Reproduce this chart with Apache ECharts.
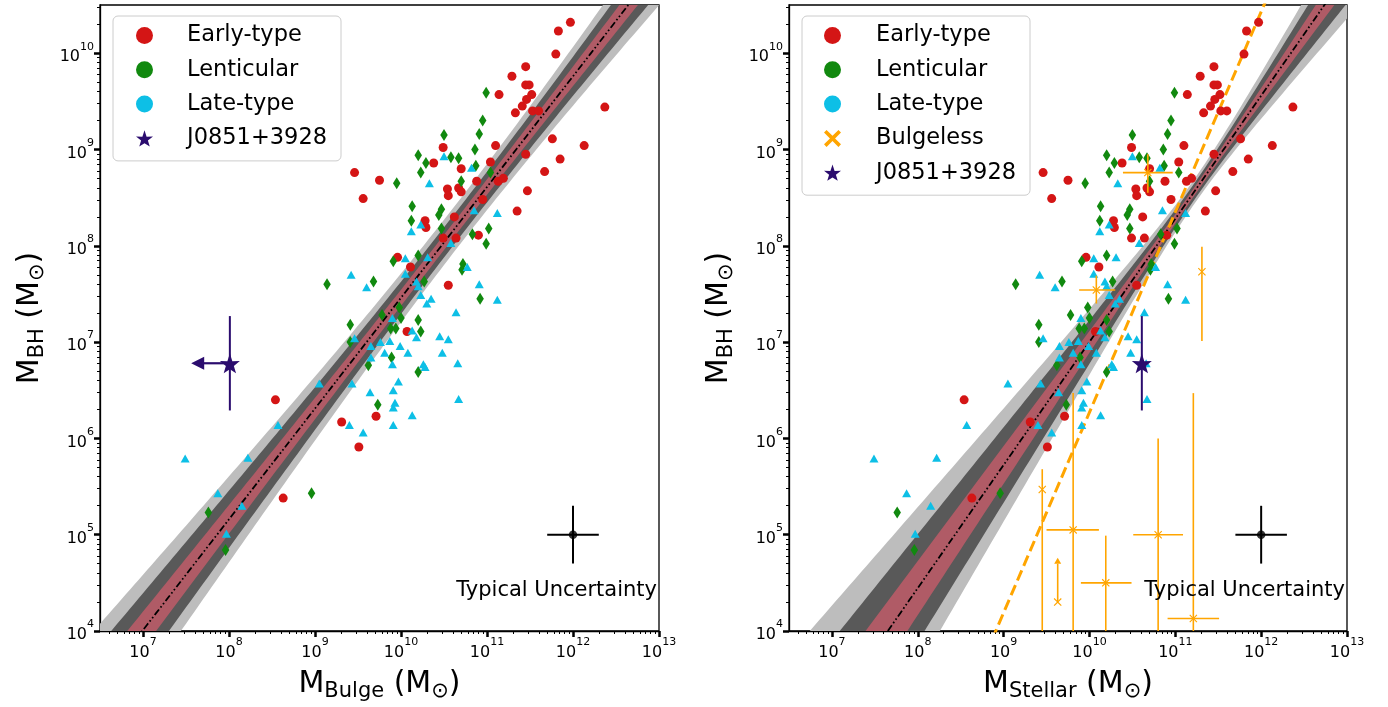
<!DOCTYPE html>
<html>
<head>
<meta charset="utf-8">
<script src="https://cdn.jsdelivr.net/npm/echarts@6/dist/echarts.min.js"></script>
<style>
  html, body { margin: 0; padding: 0; background: #fff; }
  #chart { width: 1388px; height: 707px; }
</style>
</head>
<body>
<div id="chart"></div>
<script>
// All masses are log10(M / M_sun).

// Early-type galaxies (bulge mass equals stellar mass)
const earlyLogM = [11.97,11.83,11.80,11.45,11.29,11.45,11.49,11.14,11.52,11.46,
  11.41,11.33,11.53,11.60,12.37,11.76,12.13,10.49,11.10,11.45,
  11.85,10.38,11.04,10.70,9.46,11.67,9.75,10.88,11.13,11.19,
  10.54,10.67,10.55,10.70,11.47,9.56,10.95,11.35,10.28,10.29,
  10.62,10.49,10.64,10.90,9.96,10.11,10.55,10.07,8.54,9.31,
  9.71,9.51,8.63];
const earlyLogBH = [10.32,10.23,9.99,9.86,9.76,9.67,9.67,9.57,9.57,9.52,
  9.45,9.38,9.40,9.40,9.44,9.11,9.04,9.02,9.04,8.95,
  8.90,8.86,8.87,8.80,8.76,8.77,8.68,8.67,8.67,8.70,
  8.59,8.60,8.52,8.56,8.57,8.49,8.48,8.36,8.26,8.19,
  8.30,8.08,8.08,8.11,7.88,7.78,7.59,7.11,6.40,6.17,
  6.23,5.91,5.38];

// Lenticular galaxies
const lentLogM = [10.99,10.95,10.91,10.50,10.86,10.20,10.58,10.67,10.29,10.87,
  10.23,11.04,10.70,9.95,10.13,10.47,10.44,10.12,10.47,11.02,
  10.83,10.99,10.20,9.91,10.72,10.71,9.68,9.14,10.27,10.92,
  9.98,9.78,9.41,9.88,9.94,10.00,10.20,10.23,9.41,9.89,
  9.62,10.20,9.73,8.96,7.76,7.96];
const lentLogBH = [9.59,9.30,9.16,9.15,9.00,8.94,8.92,8.91,8.86,8.83,
  8.76,8.76,8.67,8.65,8.41,8.38,8.32,8.26,8.18,8.18,
  8.12,8.02,7.90,7.84,7.81,7.75,7.63,7.60,7.63,7.45,
  7.36,7.28,7.18,7.14,7.14,7.25,7.23,7.11,7.00,6.84,
  6.76,6.69,6.35,5.43,5.23,4.84];

// Late-type galaxies
const lateLogM = [10.50,10.82,10.33,10.85,11.12,10.23,10.12,10.58,10.05,10.31,
  9.42,9.60,10.05,10.18,10.20,10.77,10.91,10.23,10.35,10.30,
  11.12,10.64,9.90,9.46,9.65,9.76,9.87,9.99,10.13,10.18,
  10.08,9.81,9.65,10.45,10.55,10.48,9.90,10.26,10.28,10.66,
  9.05,9.43,9.97,9.64,9.91,9.93,9.91,10.67,10.13,8.57,
  9.40,9.91,9.56,7.49,8.22,7.87,8.15,7.97];
const lateLogBH = [8.93,8.81,8.65,8.37,8.34,8.22,8.15,8.03,7.87,7.88,
  7.70,7.57,7.71,7.63,7.58,7.78,7.60,7.49,7.45,7.40,
  7.44,7.31,7.25,7.04,6.96,7.00,7.01,6.96,7.12,7.05,
  6.89,6.89,6.84,7.06,7.03,6.89,6.77,6.77,6.74,6.78,
  6.57,6.57,6.59,6.48,6.50,6.37,6.32,6.41,6.24,6.14,
  6.14,6.14,6.06,5.79,5.80,5.43,5.30,5.01];

// Bulgeless galaxies (stellar-mass panel only); null = no bar on that side,
// lower bounds below 10^4 run off the bottom of the axes
const bgLogM  = [10.68, 10.08, 11.31, 9.45, 9.81, 10.19, 10.80, 11.21];
const bgLogBH = [8.76, 7.54, 7.73, 5.47, 5.05, 4.50, 5.00, 4.13];
const bgXLo   = [10.39, 9.88, null, null, 9.50, 9.90, 10.51, 10.91];
const bgXHi   = [10.97, 10.30, null, null, 10.11, 10.49, 11.09, 11.51];
const bgYLo   = [8.55, 7.40, 7.01, 3.0, 3.0, 3.0, 3.0, 3.0];
const bgYHi   = [8.95, 7.69, 7.99, 5.68, 6.47, 4.99, 6.00, 6.47];
// bulgeless lower limit: [logM, logBH, arrow tip]
const bgLimit = [9.63, 4.30, 4.76];

// J0851+3928
const jLogMbulgeLimit = 8.01;   // upper limit on bulge mass
const jLimitArrowTip = 7.56;
const jLogMstar = 10.61;
const jLogBH = 6.78;
const jLogBHLo = 6.29, jLogBHHi = 7.27;

// Typical uncertainty marker: [logM, logBH, +/- dex]
const typical = [12.0, 5.0, 0.3];

// Scaling relations: logBH = norm + slope*(logM - pivot);
// confidence width sigma(x) = sqrt(sa^2 + (sb*(x - x0))^2), shaded at 1, 2, 3 sigma
const bulgeFit   = { norm: 8.61, slope: 1.15, pivot: 11, sa: 0.078, sb: 0.048, x0: 10.64 };
const stellarFit = { norm: 8.28, slope: 1.278, pivot: 11, sa: 0.043, sb: 0.086, x0: 11.22 };
const bulgelessFit = { norm: 8.35, slope: 2.08, pivot: 11 };

// Axis tick labels (exponents)
const xMajor = [7, 8, 9, 10, 11, 12, 13];
const yMajor = [4, 5, 6, 7, 8, 9, 10];

const FONT = 'DejaVu Sans';
const C_EARLY = '#d41515', C_LENT = '#11890f', C_LATE = '#0dbfe6';
const C_STAR = '#2b0c6e', C_ORANGE = '#ffa500';
const BAND_COLORS = ['#bdbdbd', '#595959', '#b05b66'];

const X_RANGE = [6.5, 13], Y_RANGE = [4, 10.5];

function minorTicks(lo, hi) {
  const out = [];
  for (let n = Math.floor(lo); n <= Math.ceil(hi); n++) {
    for (let k = 2; k <= 9; k++) {
      const v = n + Math.log10(k);
      if (v > lo && v < hi) out.push(v);
    }
  }
  return out;
}

const STAR_PATH = 'path://M10,0L12.35,7.19L19.51,6.91L13.8,11.45L15.88,18.09L10,14.55L4.12,18.09L6.2,11.45L0.49,6.91L7.65,7.19Z';
const X_BOLD = 'path://M0,3L3,0L10,7L17,0L20,3L13,10L20,17L17,20L10,13L3,20L0,17L7,10Z';
const X_THIN = 'path://M0,1L1,0L5,4L9,0L10,1L6,5L10,9L9,10L5,6L1,10L0,9L4,5Z';

const supRich = {
  b: { fontFamily: FONT, fontSize: 16, color: '#000', lineHeight: 24, verticalAlign: 'bottom' },
  s: { fontFamily: FONT, fontSize: 11, color: '#000', lineHeight: 24, verticalAlign: 'top' }
};
const powLabel = v => '{b|10}{s|' + Math.round(v) + '}';

const titleStyle = {
  fontFamily: FONT, fontSize: 30, color: '#000',
  rich: { s: { fontFamily: FONT, fontSize: 21, color: '#000', padding: [15, 0, 0, 0] } }
};

function majorX(gridIndex, title) {
  return {
    type: 'value', gridIndex, min: X_RANGE[0], max: X_RANGE[1], position: 'bottom',
    name: title, nameLocation: 'middle', nameGap: 35, nameTextStyle: titleStyle,
    axisLine: { show: true, lineStyle: { color: '#000', width: 1.3 } },
    axisTick: { show: true, customValues: xMajor, length: 6, lineStyle: { color: '#000', width: 2.5 } },
    axisLabel: { show: true, customValues: xMajor, formatter: powLabel, rich: supRich, margin: 6 },
    splitLine: { show: false }
  };
}
function minorX(gridIndex) {
  return {
    type: 'value', gridIndex, min: X_RANGE[0], max: X_RANGE[1], position: 'bottom',
    axisLine: { show: false },
    axisTick: { show: true, customValues: minorTicks(X_RANGE[0], X_RANGE[1]), length: 3, lineStyle: { color: '#000', width: 1 } },
    axisLabel: { show: false }, splitLine: { show: false }
  };
}
function majorY(gridIndex) {
  return {
    type: 'value', gridIndex, min: Y_RANGE[0], max: Y_RANGE[1], position: 'left',
    name: 'M{s|BH} (M{s|⊙})', nameLocation: 'middle', nameGap: 52, nameTextStyle: titleStyle,
    axisLine: { show: true, lineStyle: { color: '#000', width: 1.3 } },
    axisTick: { show: true, customValues: yMajor, length: 6, lineStyle: { color: '#000', width: 2.5 } },
    axisLabel: { show: true, customValues: yMajor, formatter: powLabel, rich: supRich, margin: 6 },
    splitLine: { show: false }
  };
}
function minorY(gridIndex) {
  return {
    type: 'value', gridIndex, min: Y_RANGE[0], max: Y_RANGE[1], position: 'left',
    axisLine: { show: false },
    axisTick: { show: true, customValues: minorTicks(Y_RANGE[0], Y_RANGE[1]), length: 3, lineStyle: { color: '#000', width: 1 } },
    axisLabel: { show: false }, splitLine: { show: false }
  };
}

// Sample positions for drawing the fitted relations and their bands
const fitXs = [];
for (let i = 0; i <= 150; i++) fitXs.push(6.0 + i * 0.05);

const fitY = (f, x) => f.norm + f.slope * (x - f.pivot);
const fitSig = (f, x) => Math.sqrt(f.sa * f.sa + Math.pow(f.sb * (x - f.x0), 2));

// One filled polygon per confidence band, clipped to the plot box
function bandSeries(fit, axis, k, color, z) {
  const rows = fitXs.map(x => [x, fitY(fit, x) - k * fitSig(fit, x), fitY(fit, x) + k * fitSig(fit, x)]);
  return {
    type: 'custom', name: 'band' + k, xAxisIndex: axis, yAxisIndex: axis, z, silent: true,
    data: rows,
    renderItem: function (params, api) {
      if (params.dataIndex !== 0) return null;
      const cs = params.coordSys;
      const upper = rows.map(r => api.coord([r[0], r[2]]));
      const lower = rows.map(r => api.coord([r[0], r[1]])).reverse();
      return {
        type: 'polygon', shape: { points: upper.concat(lower) }, style: { fill: color },
        clipPath: { type: 'rect', shape: { x: cs.x, y: cs.y, width: cs.width, height: cs.height } }
      };
    }
  };
}

function fitSeries(fit, axis, tag) {
  const out = [
    bandSeries(fit, axis, 3, BAND_COLORS[0], 1),
    bandSeries(fit, axis, 2, BAND_COLORS[1], 1.1),
    bandSeries(fit, axis, 1, BAND_COLORS[2], 1.2)
  ];
  out.push({
    type: 'line', name: tag + '-fit', xAxisIndex: axis, yAxisIndex: axis,
    data: fitXs.map(x => [x, fitY(fit, x)]), symbol: 'none', silent: true, z: 2, clip: true,
    lineStyle: { color: '#000', width: 1.8, type: [7, 2.5, 1.6, 2.5, 1.6, 2.5] }
  });
  return out;
}

function scatterSeries(axis) {
  return [
    { type: 'scatter', name: 'Early-type', xAxisIndex: axis, yAxisIndex: axis, z: 4,
      symbol: 'circle', symbolSize: 9, itemStyle: { color: C_EARLY, opacity: 1 },
      data: earlyLogM.map((x, i) => [x, earlyLogBH[i]]) },
    { type: 'scatter', name: 'Lenticular', xAxisIndex: axis, yAxisIndex: axis, z: 4,
      symbol: 'diamond', symbolSize: [7.5, 12], itemStyle: { color: C_LENT, opacity: 1 },
      data: lentLogM.map((x, i) => [x, lentLogBH[i]]) },
    { type: 'scatter', name: 'Late-type', xAxisIndex: axis, yAxisIndex: axis, z: 4,
      symbol: 'triangle', symbolSize: [9, 8], itemStyle: { color: C_LATE, opacity: 1 },
      data: lateLogM.map((x, i) => [x, lateLogBH[i]]) }
  ];
}

// Error bars: [x, y, xlo, xhi, ylo, yhi] drawn through the axes, clamped to the plot box
function errorBarRender(color, width) {
  return function (params, api) {
    const cs = params.coordSys;
    const clampY = p => Math.min(Math.max(p, cs.y), cs.y + cs.height);
    const c = api.coord([api.value(0), api.value(1)]);
    const kids = [];
    const xl = api.value(2), xh = api.value(3), yl = api.value(4), yh = api.value(5);
    const st = { stroke: color, lineWidth: width };
    if (!isNaN(xl) && !isNaN(xh)) {
      const a = api.coord([xl, api.value(1)]), b = api.coord([xh, api.value(1)]);
      kids.push({ type: 'line', shape: { x1: a[0], y1: c[1], x2: b[0], y2: c[1] }, style: st });
    }
    if (!isNaN(yl) && !isNaN(yh)) {
      const a = api.coord([api.value(0), yl]), b = api.coord([api.value(0), yh]);
      kids.push({ type: 'line', shape: { x1: c[0], y1: clampY(a[1]), x2: c[0], y2: clampY(b[1]) }, style: st });
    }
    return { type: 'group', children: kids };
  };
}

function typicalSeries(axis) {
  const [x, y, e] = typical;
  return [
    { type: 'custom', name: 'typical-err', xAxisIndex: axis, yAxisIndex: axis, z: 5, silent: true,
      renderItem: errorBarRender('#000', 2), data: [[x, y, x - e, x + e, y - e, y + e]] },
    { type: 'scatter', name: 'typical', xAxisIndex: axis, yAxisIndex: axis, z: 6, silent: true,
      symbol: 'circle', symbolSize: 8.5, itemStyle: { color: '#000' }, data: [[x, y]] }
  ];
}

function starSeries(axis, xVal) {
  return [
    { type: 'custom', name: 'J0851-err', xAxisIndex: axis, yAxisIndex: axis, z: 6, silent: true,
      renderItem: errorBarRender(C_STAR, 2), data: [[xVal, jLogBH, NaN, NaN, jLogBHLo, jLogBHHi]] },
    { type: 'scatter', name: 'J0851+3928', xAxisIndex: axis, yAxisIndex: axis, z: 7,
      symbol: STAR_PATH, symbolSize: 20, itemStyle: { color: C_STAR, opacity: 1 }, data: [[xVal, jLogBH]] }
  ];
}

// Upper-limit arrow on the bulge mass of J0851+3928
const jArrowSeries = {
  type: 'custom', name: 'J0851-limit', xAxisIndex: 0, yAxisIndex: 0, z: 6, silent: true,
  data: [[jLogMbulgeLimit, jLogBH, jLimitArrowTip]],
  renderItem: function (params, api) {
    const s = api.coord([api.value(0), api.value(1)]);
    const t = api.coord([api.value(2), api.value(1)]);
    const head = 13;
    return { type: 'group', children: [
      { type: 'line', shape: { x1: s[0], y1: s[1], x2: t[0] + head * 0.8, y2: t[1] }, style: { stroke: C_STAR, lineWidth: 2.2 } },
      { type: 'polygon', shape: { points: [[t[0], t[1]], [t[0] + head, t[1] - head / 2], [t[0] + head, t[1] + head / 2]] }, style: { fill: C_STAR } }
    ] };
  }
};

// Bulgeless points, their error bars and the lower-limit arrow
const bulgelessSeries = [
  { type: 'custom', name: 'bulgeless-err', xAxisIndex: 2, yAxisIndex: 2, z: 5, silent: true,
    renderItem: errorBarRender(C_ORANGE, 1.6),
    data: bgLogM.map((x, i) => [x, bgLogBH[i],
      bgXLo[i] == null ? NaN : bgXLo[i], bgXHi[i] == null ? NaN : bgXHi[i],
      bgYLo[i] == null ? NaN : bgYLo[i], bgYHi[i] == null ? NaN : bgYHi[i]]) },
  { type: 'custom', name: 'bulgeless-limit', xAxisIndex: 2, yAxisIndex: 2, z: 5, silent: true,
    data: [bgLimit],
    renderItem: function (params, api) {
      const s = api.coord([api.value(0), api.value(1)]);
      const t = api.coord([api.value(0), api.value(2)]);
      const h = 6;
      return { type: 'group', children: [
        { type: 'line', shape: { x1: s[0], y1: s[1], x2: t[0], y2: t[1] + h }, style: { stroke: C_ORANGE, lineWidth: 1.6 } },
        { type: 'polygon', shape: { points: [[t[0], t[1]], [t[0] - 3.5, t[1] + h], [t[0] + 3.5, t[1] + h]] }, style: { fill: C_ORANGE } }
      ] };
    } },
  { type: 'scatter', name: 'Bulgeless', xAxisIndex: 2, yAxisIndex: 2, z: 6,
    symbol: X_THIN, symbolSize: 8, itemStyle: { color: C_ORANGE, opacity: 1 },
    data: bgLogM.map((x, i) => [x, bgLogBH[i]]).concat([[bgLimit[0], bgLimit[1]]]) },
  { type: 'line', name: 'bulgeless-fit', xAxisIndex: 2, yAxisIndex: 2, z: 3, silent: true, clip: true,
    symbol: 'none', data: [8.5, 12.5].map(x => [x, fitY(bulgelessFit, x)]),
    lineStyle: { color: C_ORANGE, width: 3, type: [11, 5] } }
];

function legendFor(left, names, padL, textPad) {
  const items = {
    'Early-type': { name: 'Early-type', icon: 'circle', itemStyle: { color: C_EARLY, opacity: 1 } },
    'Lenticular': { name: 'Lenticular', icon: 'circle', itemStyle: { color: C_LENT, opacity: 1 } },
    'Late-type': { name: 'Late-type', icon: 'circle', itemStyle: { color: C_LATE, opacity: 1 } },
    'Bulgeless': { name: 'Bulgeless', icon: X_BOLD, itemStyle: { color: C_ORANGE, opacity: 1 } },
    'J0851+3928': { name: 'J0851+3928', icon: STAR_PATH, itemStyle: { color: C_STAR, opacity: 1 } }
  };
  return {
    orient: 'vertical', left, top: 16, padding: [8, 14, 11, padL],
    itemWidth: 17, itemHeight: 17, itemGap: 11.3, selectedMode: false,
    borderColor: '#cccccc', borderWidth: 1, borderRadius: 5, backgroundColor: 'rgba(255,255,255,0.85)',
    textStyle: { fontFamily: FONT, fontSize: 22.5, color: '#000', lineHeight: 20, padding: [0, 0, 0, textPad] },
    data: names.map(n => items[n])
  };
}

const chart = echarts.init(document.getElementById('chart'), null, { renderer: 'canvas' });
chart.setOption({
  animation: false,
  backgroundColor: '#fff',
  grid: [
    { left: 100, top: 5, width: 559, height: 630, show: true, borderColor: '#000', borderWidth: 1.3, backgroundColor: 'transparent' },
    { left: 789, top: 5, width: 558, height: 630, show: true, borderColor: '#000', borderWidth: 1.3, backgroundColor: 'transparent' }
  ],
  xAxis: [majorX(0, 'M{s|Bulge} (M{s|⊙})'), minorX(0), majorX(1, 'M{s|Stellar} (M{s|⊙})'), minorX(1)],
  yAxis: [majorY(0), minorY(0), majorY(1), minorY(1)],
  legend: [
    legendFor(113, ['Early-type', 'Lenticular', 'Late-type', 'J0851+3928'], 23, 29),
    legendFor(802, ['Early-type', 'Lenticular', 'Late-type', 'Bulgeless', 'J0851+3928'], 22, 30)
  ],
  graphic: [
    { type: 'text', x: 657, y: 591, z: 10,
      style: { text: 'Typical Uncertainty', fontFamily: FONT, fontSize: 21, fill: '#000', align: 'right', verticalAlign: 'middle' } },
    { type: 'text', x: 1345, y: 591, z: 10,
      style: { text: 'Typical Uncertainty', fontFamily: FONT, fontSize: 21, fill: '#000', align: 'right', verticalAlign: 'middle' } }
  ],
  series: [].concat(
    fitSeries(bulgeFit, 0, 'bulge'),
    scatterSeries(0),
    typicalSeries(0),
    starSeries(0, jLogMbulgeLimit),
    [jArrowSeries],
    fitSeries(stellarFit, 2, 'stellar'),
    scatterSeries(2),
    bulgelessSeries,
    typicalSeries(2),
    starSeries(2, jLogMstar)
  )
});
</script>
</body>
</html>
